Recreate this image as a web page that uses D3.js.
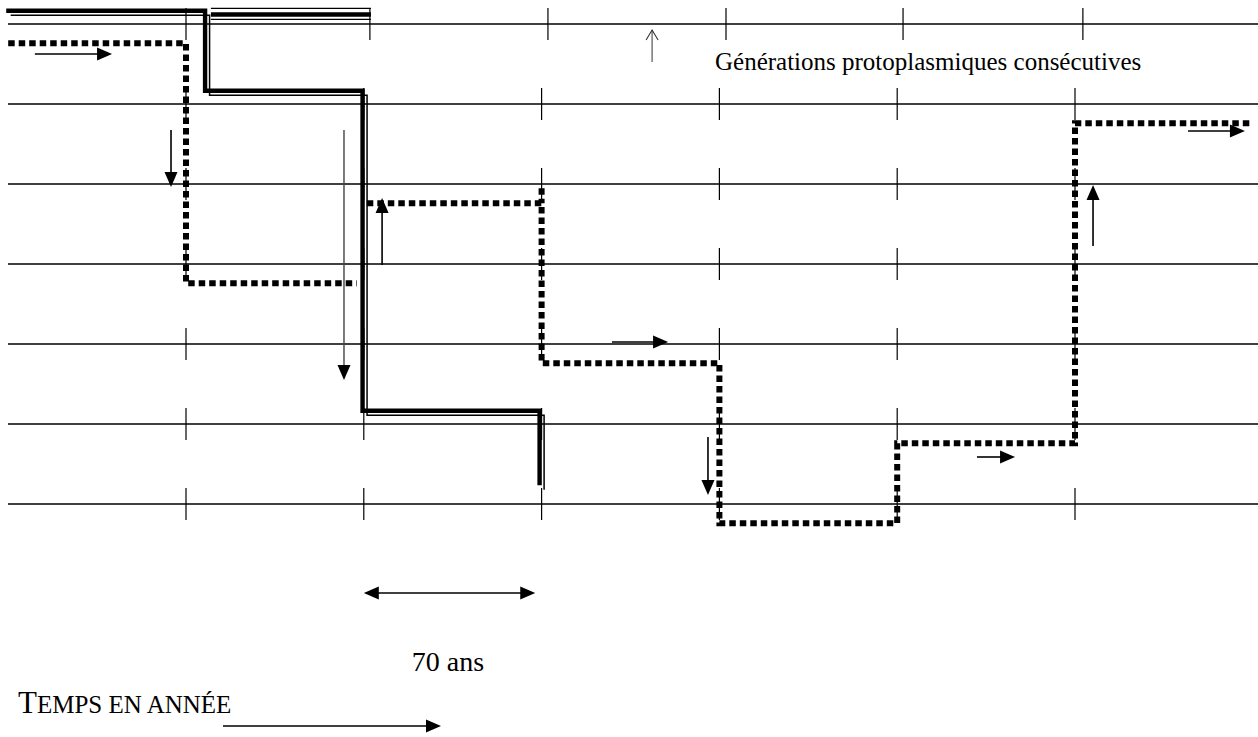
<!DOCTYPE html>
<html><head><meta charset="utf-8">
<script src="https://cdn.jsdelivr.net/npm/d3@7"></script>
<style>body{margin:0;background:#fff;overflow:hidden}</style>
</head><body>
<svg id="c" width="1258" height="737"></svg>
<script>
// ---- data (years on x, generation index on y) ----
const generations = [0,1,2,3,4,5,6];
const tickYears = [70,140,210,280,350,420];
const topRowTickYears = [70,142.4,212.5,282.6,352.3,423.1];
// dotted lineage: two runs (broken at 140 years)
const dottedYears1 = [0,70,140];
const dottedGen1   = [0,3,3];
const dottedYears2 = [140,210,280,350,420,490];
const dottedGen2   = [2,4,6,5,1,1];
// double-line lineage
const doubleYears = [0,78.3,140.3,210];
const doubleGen   = [-0.14,0.86,4.86,5.79];
const doubleTopYears = [79.8,142.8];
const doubleTopGen = -0.12;
// direction arrows
const rightArrows = [[10.5,40.9,0.375],[237.7,259.8,3.975],[381.4,396.4,5.4125],[464.5,486.9,1.3375]];
const vertArrows  = [[64.1,1.325,2.0375],[147.2,3.0125,2.175],[275.5,5.1625,5.8875],[427.1,2.775,2.0125]];
const longArrow = [132.2,1.325,4.45];
const thinArrow = [253.5,0.475,0.075];
const spanYears = [140,207.5];
const labelTop = "Générations protoplasmiques consécutives";
const labelSpan = "70 ans";

// ---- scales ----
const x = d3.scaleLinear().domain([0,490]).range([8.2,1252.8]);
const y = d3.scaleLinear().domain([0,6]).range([24,504]);
const band = 0.24;

const svg = d3.select("#c");
const g = svg.append("g");

// grid lines
g.selectAll("line.grid").data(generations).join("line")
  .attr("x1",8).attr("x2",1258)
  .attr("y1",d=>y(d)).attr("y2",d=>y(d))
  .attr("stroke","#000").attr("stroke-width",1.3);
// ticks
generations.forEach(gen=>{
  const ty = gen===0 ? topRowTickYears : tickYears;
  g.selectAll(null).data(ty).join("line")
    .attr("x1",d=>x(d)).attr("x2",d=>x(d))
    .attr("y1",y(gen)-16).attr("y2",y(gen)+16)
    .attr("stroke","#000").attr("stroke-width",1.2);
});

// dotted lineage
const stepLine = d3.line().x(d=>d[0]).y(d=>d[1]).curve(d3.curveStepAfter);
const run1 = dottedYears1.map((t,i)=>[x(t), y(dottedGen1[i]+band)]);
run1[run1.length-1][0] -= 7;
const run2 = dottedYears2.map((t,i)=>[x(t), y(dottedGen2[i]+band)]);
run2[0][0] += 3;
[run1,run2].forEach(r=>{
  g.append("path").attr("d",stepLine(r)).attr("fill","none")
   .attr("stroke","#000").attr("stroke-width",6)
   .attr("stroke-dasharray","6.5,4");
});
// small overshoot on vertical at 210 years
g.append("path").attr("d",stepLine([[x(210),y(dottedGen2[0]+band)-15],[x(210),y(dottedGen2[0]+band)]]))
  .attr("stroke","#000").attr("stroke-width",6).attr("stroke-dasharray","6.5,4");

// double-line lineage
const dbl = doubleYears.map((t,i)=>[x(t), y(doubleGen[i])]);
g.append("path").attr("d",stepLine(dbl)).attr("fill","none")
  .attr("stroke","#000").attr("stroke-width",4.4).attr("stroke-linejoin","miter")
  .attr("transform","translate(-2,-2)");
g.append("path").attr("d",stepLine(dbl)).attr("fill","none")
  .attr("stroke","#000").attr("stroke-width",1.5).attr("stroke-linejoin","miter")
  .attr("transform","translate(2.5,2.5)");
[[-6,1.3],[0,4.5],[5,1.3]].forEach(([dy,w])=>{
  g.append("line").attr("x1",x(doubleTopYears[0])).attr("x2",x(doubleTopYears[1]))
   .attr("y1",y(doubleTopGen)+dy).attr("y2",y(doubleTopGen)+dy)
   .attr("stroke","#000").attr("stroke-width",w);
});

// arrow helper
function arrow(x1,y1,x2,y2,opt={}){
  const len=opt.len||15, hw=opt.hw||6.5, w=opt.w||1.6, col=opt.col||"#000";
  const a=Math.atan2(y2-y1,x2-x1), ca=Math.cos(a), sa=Math.sin(a);
  const bx=x2-len*ca, by=y2-len*sa;
  g.append("line").attr("x1",x1).attr("y1",y1).attr("x2",bx+ca).attr("y2",by+sa)
   .attr("stroke",opt.lineCol||col).attr("stroke-width",w);
  g.append("path").attr("d",`M${x2},${y2}L${bx-hw*sa},${by+hw*ca}L${bx+hw*sa},${by-hw*ca}Z`)
   .attr("fill",col);
}
rightArrows.forEach(([t0,t1,gn])=>arrow(x(t0),y(gn),x(t1),y(gn)));
vertArrows.forEach(([t,g0,g1])=>arrow(x(t),y(g0),x(t),y(g1)));
arrow(x(longArrow[0]),y(longArrow[1]),x(longArrow[0]),y(longArrow[2]),{w:1.4,lineCol:"#444"});
// thin open arrow
{
  const tx=x(thinArrow[0]), y0=y(thinArrow[1]), y1=y(thinArrow[2]);
  g.append("line").attr("x1",tx).attr("x2",tx).attr("y1",y0).attr("y2",y1)
   .attr("stroke","#555").attr("stroke-width",1.2);
  g.append("path").attr("d",`M${tx-6},${y1+10}L${tx},${y1}L${tx+6},${y1+10}`)
   .attr("fill","none").attr("stroke","#333").attr("stroke-width",1.1);
}
// span arrow (70 years)
{
  const sy=593, a=x(spanYears[0]), b=x(spanYears[1]);
  g.append("line").attr("x1",a+12).attr("x2",b-12).attr("y1",sy).attr("y2",sy)
   .attr("stroke","#000").attr("stroke-width",1.6);
  g.append("path").attr("d",`M${a},${sy}L${a+15},${sy-6.5}L${a+15},${sy+6.5}Z`).attr("fill","#000");
  g.append("path").attr("d",`M${b},${sy}L${b-15},${sy-6.5}L${b-15},${sy+6.5}Z`).attr("fill","#000");
}

// texts
const font = "'Liberation Serif','Times New Roman',serif";
g.append("text").attr("x",715).attr("y",70).attr("font-family",font)
  .attr("font-size",25).attr("fill","#000").text(labelTop);
g.append("text").attr("x",448).attr("y",671).attr("text-anchor","middle")
  .attr("font-family",font).attr("font-size",28).attr("fill","#000").text(labelSpan);
const tt = g.append("text").attr("x",18).attr("y",713).attr("font-family",font).attr("fill","#000");
tt.append("tspan").attr("font-size",31).text("T");
tt.append("tspan").attr("font-size",25).text("EMPS EN ANNÉE");
arrow(223,726,441,726,{w:1.6});
</script>
</body></html>
